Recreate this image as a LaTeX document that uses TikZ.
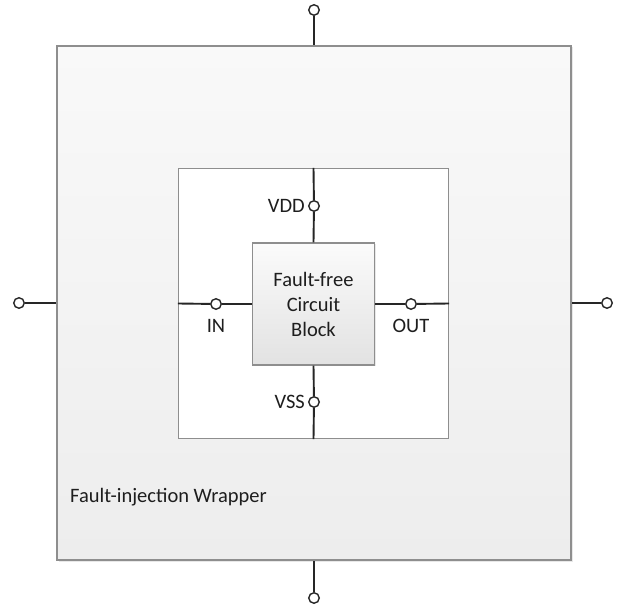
\documentclass[tikz,border=0pt]{standalone}
\usepackage{fontspec}
\setmainfont{Carlito}
\usepackage{xcolor}
\usepackage{tikz}
\usetikzlibrary{positioning,shadows}
\definecolor{edgegray}{HTML}{8E8E8E}
\definecolor{wiredark}{HTML}{262626}
\definecolor{wraptop}{HTML}{F9F9F9}
\definecolor{wrapbottom}{HTML}{EDEDED}
\definecolor{blocktop}{HTML}{FBFBFB}
\definecolor{blockbottom}{HTML}{E2E2E2}
\definecolor{textdark}{HTML}{1E1E1E}
\tikzset{
  wrapper/.style={draw=edgegray, top color=wraptop, bottom color=wrapbottom,
                  line width=1.1pt, minimum width=514pt, minimum height=514pt,
                  inner sep=0pt,
                  drop shadow={opacity=0.18, shadow xshift=1.5pt,
                               shadow yshift=-1.5pt}},
  socket/.style={draw=edgegray, fill=white, line width=1.1pt,
                 minimum width=270pt, minimum height=270pt, inner sep=0pt},
  block/.style={draw=edgegray, top color=blocktop, bottom color=blockbottom,
                line width=1.1pt, minimum width=122pt, minimum height=122pt,
                inner sep=0pt, align=center, text=textdark,
                font=\fontsize{20.5}{25}\selectfont,
                drop shadow={opacity=0.18, shadow xshift=1.5pt,
                             shadow yshift=-1.5pt}},
  wire/.style={draw=wiredark, line width=1.9pt},
  pin/.style={circle, draw=wiredark, fill=white, line width=1.4pt,
              minimum size=10.5pt, inner sep=0pt},
  pinlabel/.style={font=\fontsize{20.5}{24}\selectfont, text=textdark,
                   inner sep=0pt},
  wraplabel/.style={font=\fontsize{20.5}{24}\selectfont, text=textdark,
                    inner sep=0pt}
}

\begin{document}
\begin{tikzpicture}[x=1pt,y=1pt]
  \path[use as bounding box] (0,0) rectangle (626,605);

  % Wrapper, socket and the circuit block in the middle.
  \node[wrapper] (wrap) at (314,302) {};
  \node[socket] (sock) at (313.5,301.5) {};
  \node[block] (blk) at (313.5,301) {Fault-free\\Circuit\\Block};
  \node[wraplabel,anchor=west] (wraplbl) at (70,108) {Fault-injection Wrapper};

  % Outer pins of the wrapper.
  \node[pin] (ptop) at (314,595) {};
  \node[pin] (pbot) at (314,7) {};
  \node[pin] (pleft) at (19,302) {};
  \node[pin] (pright) at (607,302) {};
  \draw[wire] (ptop) -- (wrap.north);
  \draw[wire] (pbot) -- (wrap.south);
  \draw[wire] (pleft) -- (pleft -| wrap.west);
  \draw[wire] (pright) -- (pright -| wrap.east);

  % Block pins inside the socket.
  \node[pin] (vdd) at (314,399) {};
  \node[pin] (vss) at (314,203) {};
  \node[pin] (in) at (216,301) {};
  \node[pin] (out) at (411,301) {};
  \draw[wire] (sock.north) -- (vdd) -- (blk.north);
  \draw[wire] (sock.south) -- (vss) -- (blk.south);
  \draw[wire] (sock.west) -- (in) -- (blk.west);
  \draw[wire] (sock.east) -- (out) -- (blk.east);

  \node[pinlabel,left=3pt of vdd] (vddlbl) {VDD};
  \node[pinlabel,left=3pt of vss] (vsslbl) {VSS};
  \node[pinlabel,below=9pt of in] (inlbl) {IN};
  \node[pinlabel,below=9pt of out] (outlbl) {OUT};
\end{tikzpicture}
\end{document}
